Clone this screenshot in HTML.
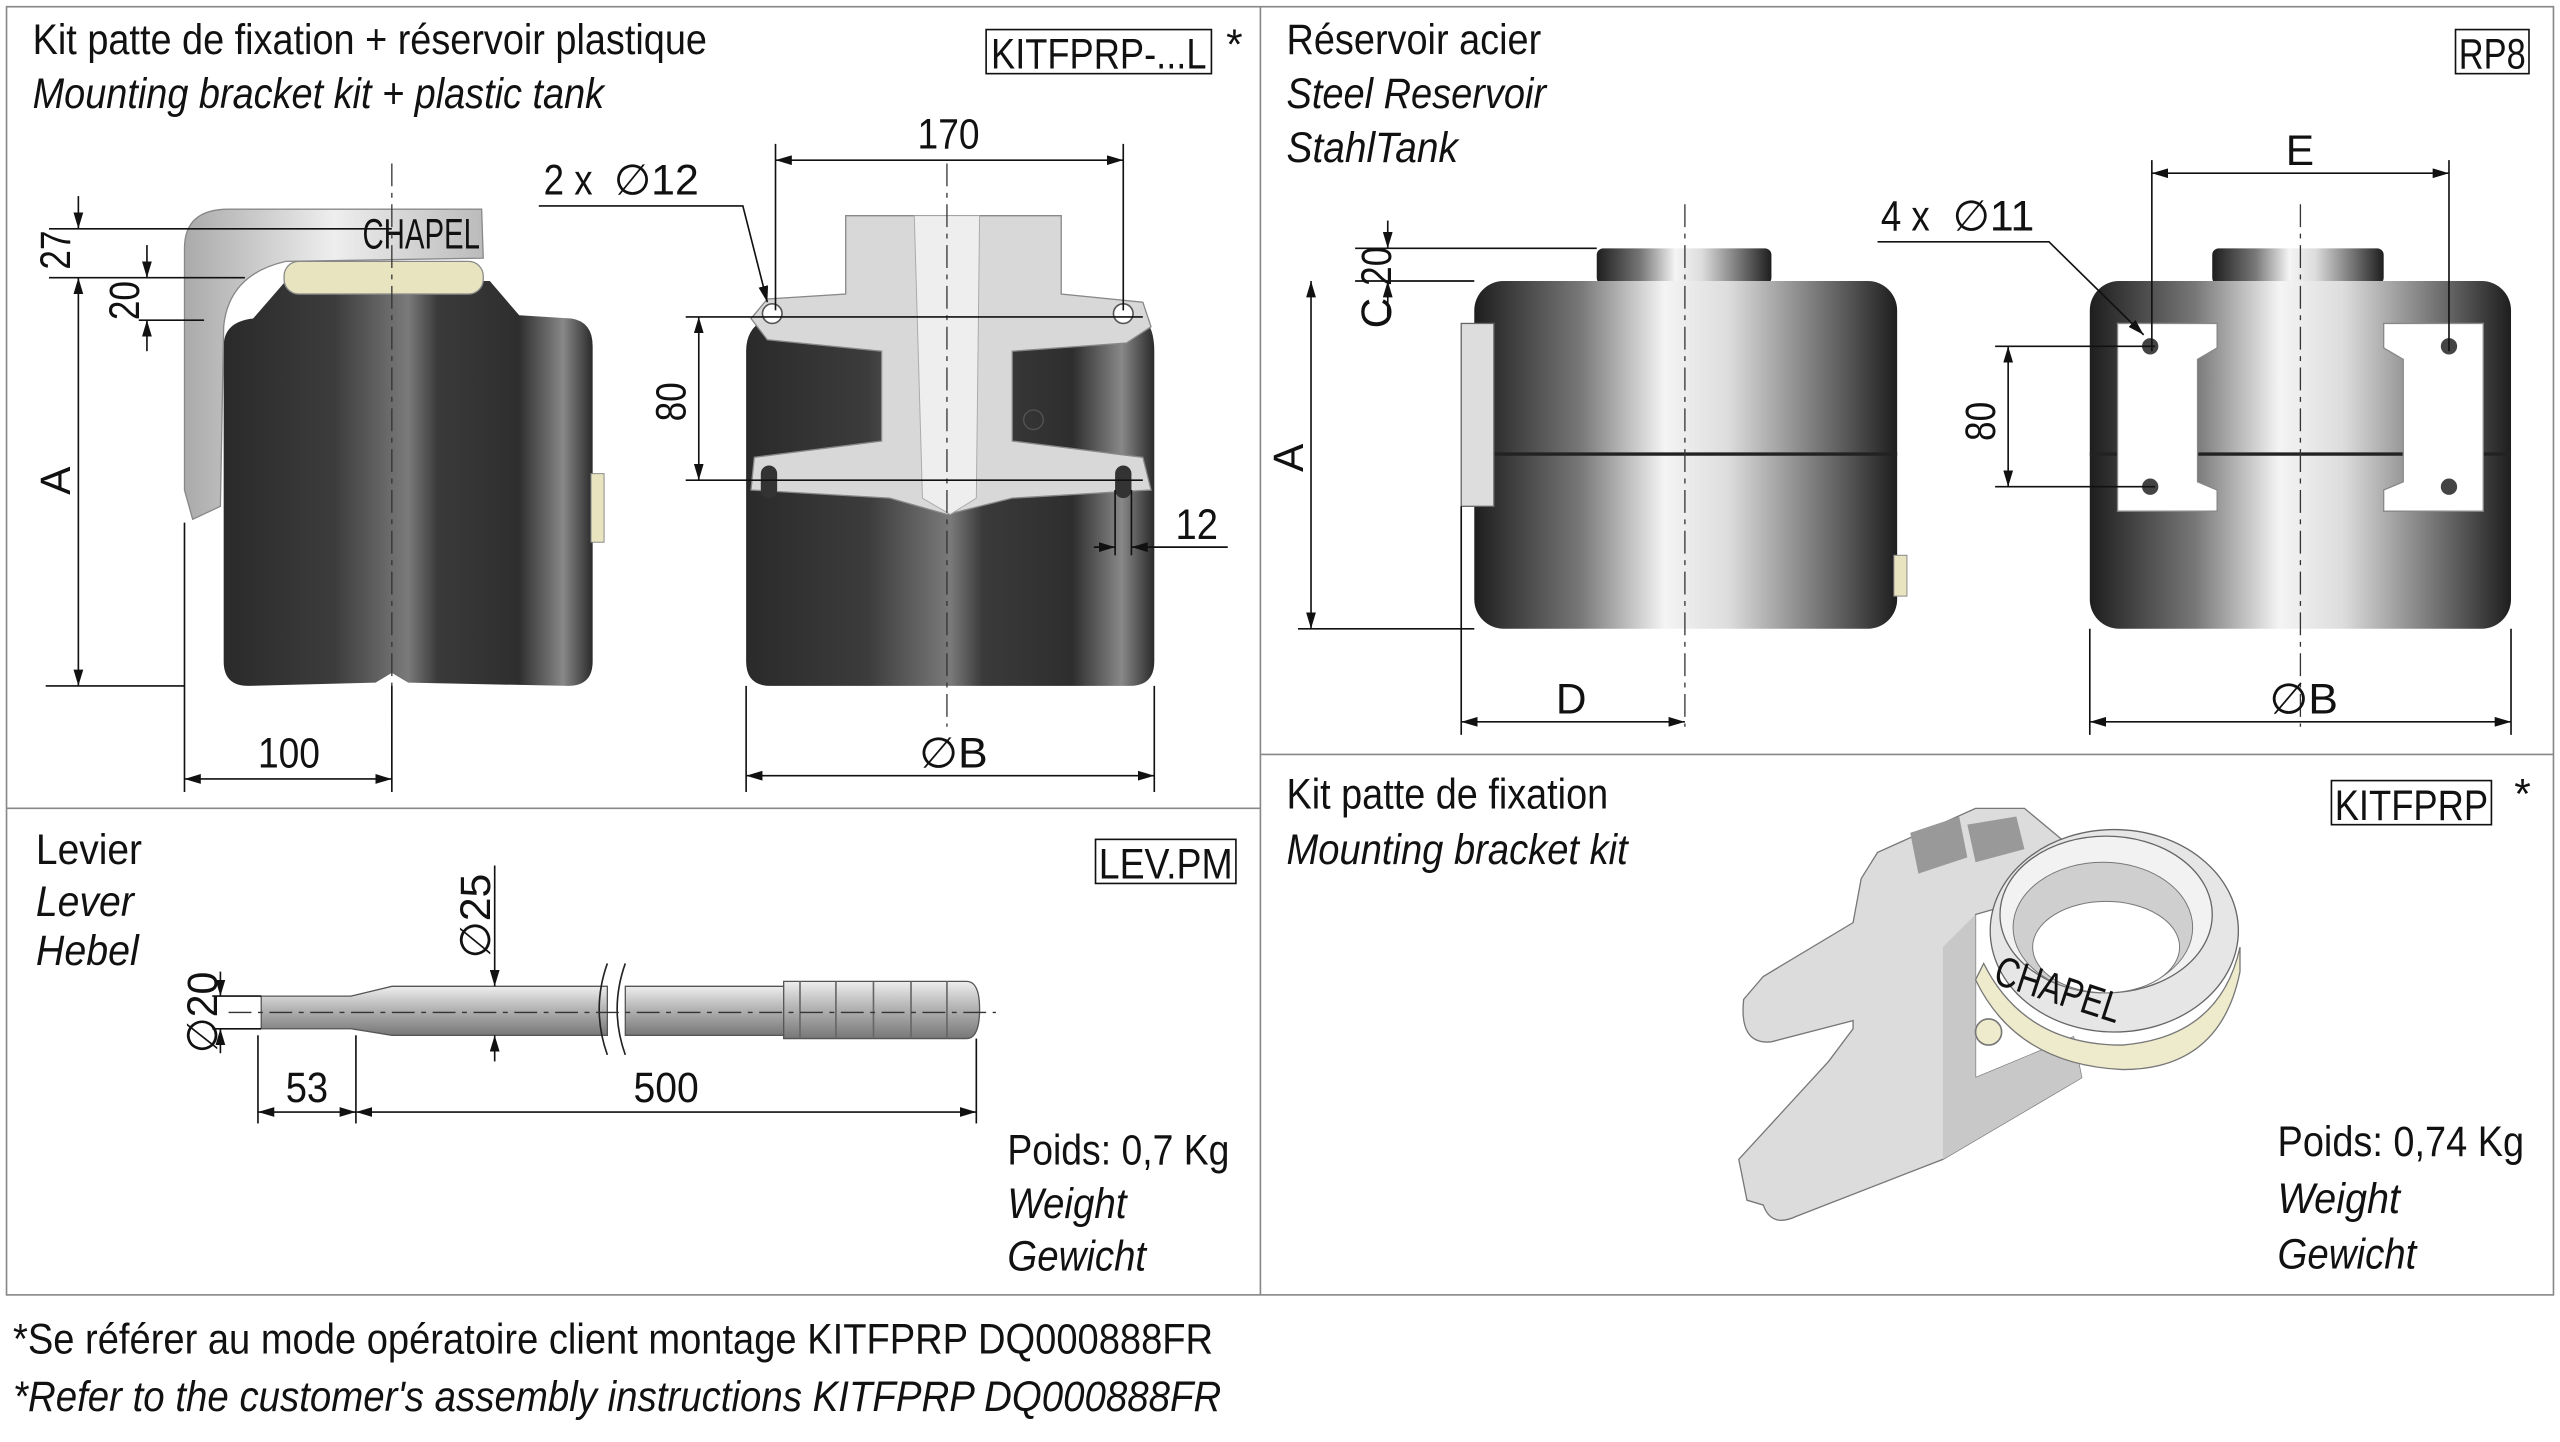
<!DOCTYPE html>
<html><head><meta charset="utf-8"><style>
html,body{margin:0;padding:0;background:#fff;}
svg{display:block;}
text{font-family:"Liberation Sans Narrow","Liberation Sans",sans-serif;fill:#111;font-size:26px;}
.i{font-style:italic;}
.d{stroke:#111;stroke-width:1;fill:none;}
.c{stroke:#333;stroke-width:0.8;stroke-dasharray:14 4 3 4;fill:none;}
</style></head><body>
<svg width="2560" height="1442" viewBox="0 0 1568 883" xmlns="http://www.w3.org/2000/svg">
<defs>
<marker id="a" viewBox="0 0 10 6" refX="10" refY="3" markerWidth="10" markerHeight="6" orient="auto-start-reverse" markerUnits="userSpaceOnUse"><path d="M0,0L10,3L0,6z" fill="#111"/></marker>
<linearGradient id="tk" x1="0" x2="1"><stop offset="0" stop-color="#2a2a2a"/><stop offset="0.3" stop-color="#3c3c3c"/><stop offset="0.5" stop-color="#7a7a7a"/><stop offset="0.58" stop-color="#3a3a3a"/><stop offset="0.8" stop-color="#2e2e2e"/><stop offset="0.92" stop-color="#888"/><stop offset="1" stop-color="#2a2a2a"/></linearGradient>
<linearGradient id="st" x1="0" x2="1"><stop offset="0" stop-color="#1e1e1e"/><stop offset="0.25" stop-color="#777"/><stop offset="0.45" stop-color="#f4f4f4"/><stop offset="0.6" stop-color="#ddd"/><stop offset="0.85" stop-color="#666"/><stop offset="1" stop-color="#1e1e1e"/></linearGradient>
<linearGradient id="br" x1="0" x2="1"><stop offset="0" stop-color="#aaa"/><stop offset="0.5" stop-color="#eee"/><stop offset="1" stop-color="#bbb"/></linearGradient>
<linearGradient id="rod" x1="0" y1="0" x2="0" y2="1"><stop offset="0" stop-color="#eee"/><stop offset="0.4" stop-color="#bbb"/><stop offset="1" stop-color="#777"/></linearGradient>
</defs>
<rect x="4" y="4" width="1560" height="789" fill="none" stroke="#888" stroke-width="1"/>
<line x1="772" y1="4" x2="772" y2="793" stroke="#888"/>
<line x1="4" y1="495" x2="772" y2="495" stroke="#888"/>
<line x1="772" y1="462" x2="1564" y2="462" stroke="#888"/>

<!-- Top left texts -->
<text x="20" y="33" textLength="413" lengthAdjust="spacingAndGlyphs">Kit patte de fixation + réservoir plastique</text>
<text x="20" y="66" class="i" textLength="350" lengthAdjust="spacingAndGlyphs">Mounting bracket kit + plastic tank</text>
<rect x="604" y="18" width="138" height="27" fill="none" stroke="#111"/>
<text x="607" y="42" textLength="132" lengthAdjust="spacingAndGlyphs">KITFPRP-...L</text><text x="751" y="36" font-size="20">*</text>

<!-- side tank -->
<path d="M175,172 L300,172 L318,193 L350,195 Q363,197 363,212 L363,405 Q363,420 348,420 L250,418 L240,412 L230,418 L152,420 Q137,420 137,405 L137,212 Q137,197 155,195 Z" fill="url(#tk)"/>
<rect x="174" y="160" width="122" height="20" rx="9" fill="#e8e4c0" stroke="#888" stroke-width="0.8"/>
<path d="M113,152 Q113,128 140,128 L295,128 L296,158 L175,160 Q140,168 137,200 L135,310 L118,318 L113,300 Z" fill="url(#br)" stroke="#888" stroke-width="0.8"/>
<text x="222" y="152" font-size="11" fill="#666" textLength="72" lengthAdjust="spacingAndGlyphs">CHAPEL</text>
<rect x="362" y="290" width="8" height="42" fill="#e8e4c0" stroke="#888" stroke-width="0.6"/>
<line x1="240" y1="100" x2="240" y2="480" class="c"/>
<!-- side dims -->
<line x1="48" y1="170" x2="48" y2="420" class="d" marker-start="url(#a)" marker-end="url(#a)"/>
<line x1="48" y1="120" x2="48" y2="140" class="d" marker-end="url(#a)"/>
<line x1="30" y1="140" x2="240" y2="140" class="d"/>
<line x1="30" y1="170" x2="150" y2="170" class="d"/>
<line x1="28" y1="420" x2="113" y2="420" class="d"/>
<line x1="90" y1="150" x2="90" y2="170" class="d" marker-end="url(#a)"/>
<line x1="90" y1="196" x2="90" y2="215" class="d" marker-start="url(#a)"/>
<line x1="85" y1="196" x2="125" y2="196" class="d"/>
<text transform="translate(43,165) rotate(-90)" textLength="24" lengthAdjust="spacingAndGlyphs">27</text>
<text transform="translate(85,196) rotate(-90)" textLength="24" lengthAdjust="spacingAndGlyphs">20</text>
<text transform="translate(43,303) rotate(-90)">A</text>
<line x1="113" y1="320" x2="113" y2="485" class="d"/>
<line x1="240" y1="420" x2="240" y2="485" class="d"/>
<line x1="113" y1="477" x2="240" y2="477" class="d" marker-start="url(#a)" marker-end="url(#a)"/>
<text x="158" y="470" textLength="38" lengthAdjust="spacingAndGlyphs">100</text>

<!-- front tank -->
<path d="M470,195 L700,195 Q707,200 707,215 L707,405 Q707,420 692,420 L472,420 Q457,420 457,405 L457,215 Q457,200 470,195 Z" fill="url(#tk)"/>
<path d="M518,132 L650,132 L650,180 L700,185 L705,200 L690,210 L620,215 L620,270 L700,280 L705,300 L620,305 L580,315 L545,305 L460,300 L462,280 L540,270 L540,215 L470,208 L460,195 L470,183 L518,180 Z" fill="#d8d8d8" stroke="#888" stroke-width="0.8"/>
<path d="M560,132 L600,132 L598,305 L582,315 L565,305 Z" fill="#eee" stroke="#aaa" stroke-width="0.6"/>
<circle cx="473" cy="192" r="6" fill="#fff" stroke="#555"/><circle cx="688" cy="192" r="6" fill="#fff" stroke="#555"/>
<rect x="466" y="285" width="10" height="20" rx="5" fill="#333"/><rect x="683" y="285" width="10" height="20" rx="5" fill="#333"/>
<circle cx="633" cy="257" r="6" fill="none" stroke="#555" stroke-width="0.8"/>
<line x1="580" y1="100" x2="580" y2="445" class="c"/>
<line x1="475" y1="88" x2="475" y2="190" class="d"/><line x1="688" y1="88" x2="688" y2="190" class="d"/>
<line x1="475" y1="98" x2="688" y2="98" class="d" marker-start="url(#a)" marker-end="url(#a)"/>
<text x="562" y="91" textLength="38" lengthAdjust="spacingAndGlyphs">170</text>
<text x="333" y="119" textLength="30" lengthAdjust="spacingAndGlyphs">2 x</text><text x="376" y="119" textLength="52" lengthAdjust="spacingAndGlyphs">∅12</text>
<polyline points="330,126 455,126 470,185" class="d" marker-end="url(#a)"/>
<line x1="420" y1="194" x2="700" y2="194" class="d"/>
<line x1="420" y1="294" x2="700" y2="294" class="d"/>
<line x1="428" y1="194" x2="428" y2="294" class="d" marker-start="url(#a)" marker-end="url(#a)"/>
<text transform="translate(420,258) rotate(-90)" textLength="24" lengthAdjust="spacingAndGlyphs">80</text>
<line x1="457" y1="420" x2="457" y2="485" class="d"/><line x1="707" y1="420" x2="707" y2="485" class="d"/>
<line x1="457" y1="475" x2="707" y2="475" class="d" marker-start="url(#a)" marker-end="url(#a)"/>
<text x="563" y="470" textLength="42" lengthAdjust="spacingAndGlyphs">∅B</text>
<line x1="683" y1="300" x2="683" y2="340" class="d"/><line x1="693" y1="300" x2="693" y2="340" class="d"/>
<line x1="670" y1="335" x2="683" y2="335" class="d" marker-end="url(#a)"/>
<line x1="693" y1="335" x2="752" y2="335" class="d" marker-start="url(#a)"/>
<text x="720" y="330" textLength="26" lengthAdjust="spacingAndGlyphs">12</text>

<!-- Steel reservoir -->
<text x="788" y="33" textLength="156" lengthAdjust="spacingAndGlyphs">Réservoir acier</text>
<text x="788" y="66" class="i" textLength="159" lengthAdjust="spacingAndGlyphs">Steel Reservoir</text>
<text x="788" y="99" class="i" textLength="105" lengthAdjust="spacingAndGlyphs">StahlTank</text>
<rect x="1504" y="18" width="45" height="27" fill="none" stroke="#111"/><text x="1506" y="42" textLength="41" lengthAdjust="spacingAndGlyphs">RP8</text>
<rect x="978" y="152" width="107" height="22" rx="4" fill="url(#st)"/>
<rect x="903" y="172" width="259" height="213" rx="18" fill="url(#st)"/>
<line x1="903" y1="278" x2="1162" y2="278" stroke="#222" stroke-width="2"/>
<rect x="895" y="198" width="20" height="112" fill="#ddd" stroke="#666" stroke-width="0.8"/>
<rect x="1160" y="340" width="8" height="25" fill="#e8e4c0" stroke="#888" stroke-width="0.6"/>
<line x1="1032" y1="125" x2="1032" y2="445" class="c"/>
<line x1="830" y1="152" x2="978" y2="152" class="d"/><line x1="830" y1="172" x2="903" y2="172" class="d"/><line x1="795" y1="385" x2="903" y2="385" class="d"/>
<line x1="850" y1="135" x2="850" y2="152" class="d" marker-end="url(#a)"/>
<line x1="850" y1="172" x2="850" y2="195" class="d" marker-start="url(#a)"/>
<text transform="translate(852,175) rotate(-90)" textLength="24" lengthAdjust="spacingAndGlyphs">20</text>
<text transform="translate(852,201) rotate(-90)">C</text>
<line x1="803" y1="172" x2="803" y2="385" class="d" marker-start="url(#a)" marker-end="url(#a)"/>
<text transform="translate(798,289) rotate(-90)">A</text>
<line x1="895" y1="310" x2="895" y2="450" class="d"/>
<line x1="895" y1="442" x2="1032" y2="442" class="d" marker-start="url(#a)" marker-end="url(#a)"/>
<text x="953" y="437">D</text>

<rect x="1355" y="152" width="105" height="22" rx="4" fill="url(#st)"/>
<rect x="1280" y="172" width="258" height="213" rx="18" fill="url(#st)"/>
<line x1="1280" y1="278" x2="1538" y2="278" stroke="#222" stroke-width="2"/>
<path d="M1297,198 L1358,198 L1358,213 L1346,220 L1346,295 L1358,300 L1358,313 L1297,313 Z" fill="#fff" stroke="#888" stroke-width="0.8"/>
<path d="M1521,198 L1460,198 L1460,213 L1472,220 L1472,295 L1460,300 L1460,313 L1521,313 Z" fill="#fff" stroke="#888" stroke-width="0.8"/>
<circle cx="1317" cy="212" r="5" fill="#444"/><circle cx="1317" cy="298" r="5" fill="#444"/>
<circle cx="1500" cy="212" r="5" fill="#444"/><circle cx="1500" cy="298" r="5" fill="#444"/>
<line x1="1409" y1="125" x2="1409" y2="445" class="c"/>
<line x1="1318" y1="98" x2="1318" y2="215" class="d"/><line x1="1500" y1="98" x2="1500" y2="215" class="d"/>
<line x1="1318" y1="106" x2="1500" y2="106" class="d" marker-start="url(#a)" marker-end="url(#a)"/>
<text x="1400" y="101">E</text>
<text x="1152" y="141" textLength="30" lengthAdjust="spacingAndGlyphs">4 x</text><text x="1196" y="141" textLength="50" lengthAdjust="spacingAndGlyphs">∅11</text>
<polyline points="1150,148 1255,148 1313,205" class="d" marker-end="url(#a)"/>
<line x1="1222" y1="212" x2="1320" y2="212" class="d"/><line x1="1222" y1="298" x2="1320" y2="298" class="d"/>
<line x1="1230" y1="212" x2="1230" y2="298" class="d" marker-start="url(#a)" marker-end="url(#a)"/>
<text transform="translate(1222,270) rotate(-90)" textLength="24" lengthAdjust="spacingAndGlyphs">80</text>
<line x1="1280" y1="385" x2="1280" y2="450" class="d"/><line x1="1538" y1="385" x2="1538" y2="450" class="d"/>
<line x1="1280" y1="442" x2="1538" y2="442" class="d" marker-start="url(#a)" marker-end="url(#a)"/>
<text x="1390" y="437" textLength="42" lengthAdjust="spacingAndGlyphs">∅B</text>

<!-- Lever -->
<text x="22" y="529" textLength="65" lengthAdjust="spacingAndGlyphs">Levier</text>
<text x="22" y="561" class="i" textLength="60" lengthAdjust="spacingAndGlyphs">Lever</text>
<text x="22" y="591" class="i" textLength="63" lengthAdjust="spacingAndGlyphs">Hebel</text>
<rect x="671" y="514" width="86" height="27" fill="none" stroke="#111"/><text x="673" y="538" textLength="82" lengthAdjust="spacingAndGlyphs">LEV.PM</text>
<path d="M160,610 L215,610 L240,604 L372,604 L372,634 L240,634 L215,630 L160,630 Z" fill="url(#rod)" stroke="#555" stroke-width="0.8"/>
<path d="M383,604 L482,604 L482,634 L383,634 Z" fill="url(#rod)" stroke="#555" stroke-width="0.8"/>
<path d="M480,601 L592,601 Q600,601 600,618 Q600,636 592,636 L480,636 Z" fill="url(#rod)" stroke="#555" stroke-width="0.8"/>
<g stroke="#666" stroke-width="1"><line x1="490" y1="601" x2="490" y2="636"/><line x1="512" y1="601" x2="512" y2="636"/><line x1="535" y1="601" x2="535" y2="636"/><line x1="558" y1="601" x2="558" y2="636"/><line x1="580" y1="601" x2="580" y2="636"/></g>
<path d="M372,590 Q362,618 372,646 M383,590 Q373,618 383,646" stroke="#222" fill="none"/>
<line x1="140" y1="620" x2="610" y2="620" class="c"/>
<line x1="130" y1="610" x2="160" y2="610" class="d"/><line x1="130" y1="630" x2="160" y2="630" class="d"/>
<line x1="135" y1="595" x2="135" y2="610" class="d" marker-end="url(#a)"/>
<line x1="135" y1="630" x2="135" y2="645" class="d" marker-start="url(#a)"/>
<text transform="translate(133,645) rotate(-90)" textLength="50" lengthAdjust="spacingAndGlyphs">∅20</text>
<line x1="303" y1="530" x2="303" y2="604" class="d" marker-end="url(#a)"/>
<line x1="303" y1="634" x2="303" y2="650" class="d" marker-start="url(#a)"/>
<text transform="translate(300,587) rotate(-90)" textLength="52" lengthAdjust="spacingAndGlyphs">∅25</text>
<line x1="158" y1="634" x2="158" y2="688" class="d"/><line x1="218" y1="634" x2="218" y2="688" class="d"/><line x1="598" y1="636" x2="598" y2="688" class="d"/>
<line x1="158" y1="681" x2="218" y2="681" class="d" marker-start="url(#a)" marker-end="url(#a)"/>
<line x1="218" y1="681" x2="598" y2="681" class="d" marker-start="url(#a)" marker-end="url(#a)"/>
<text x="175" y="675" textLength="26" lengthAdjust="spacingAndGlyphs">53</text><text x="388" y="675" textLength="40" lengthAdjust="spacingAndGlyphs">500</text>
<text x="617" y="713" textLength="136" lengthAdjust="spacingAndGlyphs">Poids: 0,7 Kg</text>
<text x="617" y="746" class="i" textLength="73" lengthAdjust="spacingAndGlyphs">Weight</text>
<text x="617" y="778" class="i" textLength="85" lengthAdjust="spacingAndGlyphs">Gewicht</text>

<!-- Mounting bracket kit -->
<text x="788" y="495" textLength="197" lengthAdjust="spacingAndGlyphs">Kit patte de fixation</text>
<text x="788" y="529" class="i" textLength="209" lengthAdjust="spacingAndGlyphs">Mounting bracket kit</text>
<rect x="1428" y="478" width="98" height="27" fill="none" stroke="#111"/><text x="1430" y="502" textLength="94" lengthAdjust="spacingAndGlyphs">KITFPRP</text><text x="1540" y="495" font-size="20">*</text>
<path d="M1140,538 L1150,522 L1210,495 L1240,495 L1270,520 L1280,540 L1210,560 L1210,660 L1270,635 L1275,660 L1190,710 L1100,745 Q1085,752 1080,738 L1070,735 L1065,710 L1120,650 L1135,630 L1135,625 L1085,638 Q1065,640 1068,612 L1080,598 L1135,565 Z" fill="#dcdcdc" stroke="#777" stroke-width="0.8"/>
<path d="M1210,560 L1210,660 L1270,635 L1275,660 L1190,710 L1190,580 Z" fill="#c8c8c8"/>
<path d="M1170,510 L1200,500 L1205,525 L1175,535 Z" fill="#999"/>
<path d="M1205,505 L1235,500 L1240,520 L1210,528 Z" fill="#999"/>
<ellipse cx="1295" cy="570" rx="76" ry="62" fill="#e6e6e6" stroke="#666" stroke-width="0.8"/>
<ellipse cx="1290" cy="560" rx="65" ry="48" fill="#f2f2f2" stroke="#666" stroke-width="0.8"/>
<ellipse cx="1288" cy="568" rx="55" ry="40" fill="#cfcfcf" stroke="#777" stroke-width="0.6"/>
<ellipse cx="1290" cy="580" rx="45" ry="28" fill="#fff" stroke="#777" stroke-width="0.6"/>
<path d="M1215,590 Q1240,640 1300,640 Q1360,635 1372,580 L1372,595 Q1360,655 1300,655 Q1235,652 1210,600 Z" fill="#eeeacc" stroke="#777" stroke-width="0.8"/>
<text x="1220" y="602" font-size="13" fill="#777" transform="rotate(18 1220 602)" textLength="80" lengthAdjust="spacingAndGlyphs">CHAPEL</text>
<circle cx="1218" cy="632" r="8" fill="#eeeacc" stroke="#777"/>
<text x="1395" y="708" textLength="151" lengthAdjust="spacingAndGlyphs">Poids: 0,74 Kg</text>
<text x="1395" y="743" class="i" textLength="75" lengthAdjust="spacingAndGlyphs">Weight</text>
<text x="1395" y="777" class="i" textLength="85" lengthAdjust="spacingAndGlyphs">Gewicht</text>

<!-- footer -->
<text x="8" y="829" textLength="735" lengthAdjust="spacingAndGlyphs">*Se référer au mode opératoire client montage KITFPRP DQ000888FR</text>
<text x="8" y="864" class="i" textLength="740" lengthAdjust="spacingAndGlyphs">*Refer to the customer's assembly instructions  KITFPRP DQ000888FR</text>
</svg>
</body></html>
